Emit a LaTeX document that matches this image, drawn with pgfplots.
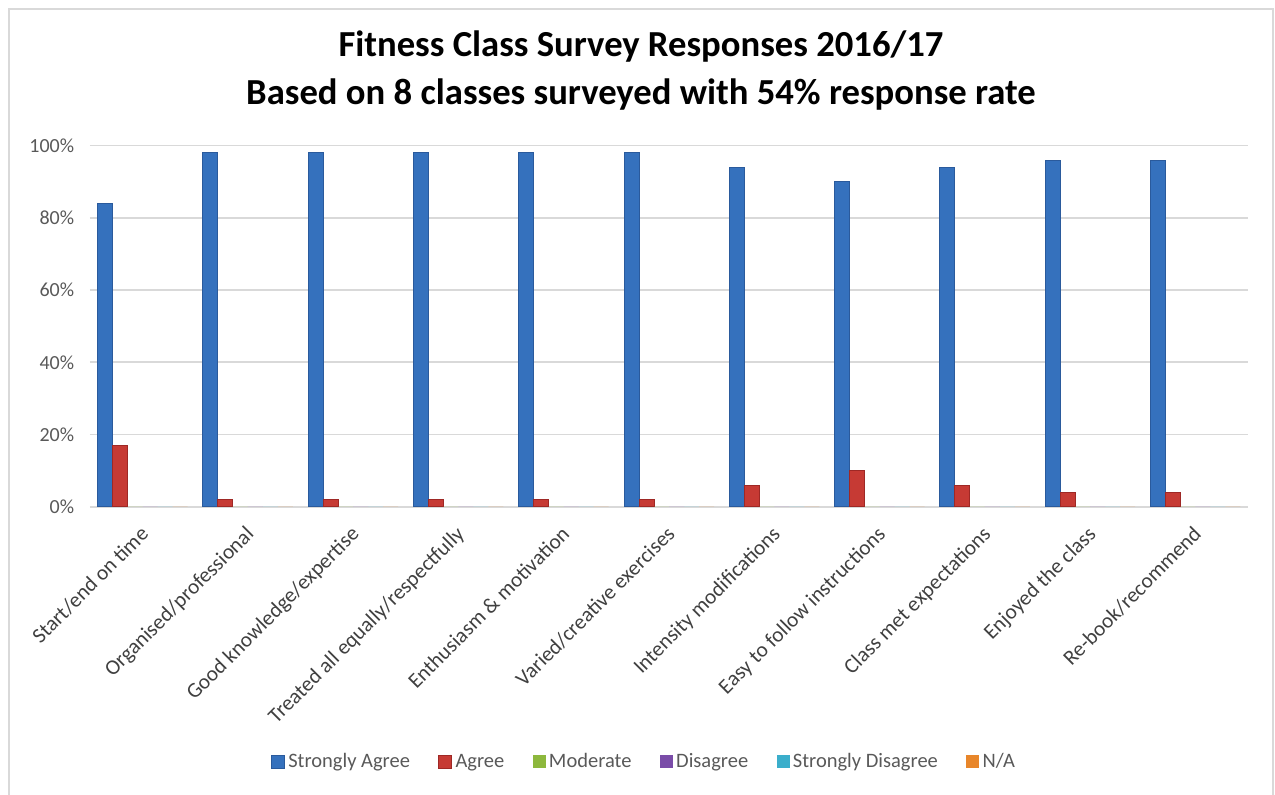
\documentclass[border=0pt]{standalone}
\usepackage{pgfplots}
\pgfplotsset{compat=1.18}
\usepackage{fontspec}
\setmainfont{Carlito}

\definecolor{saEdge}{HTML}{2A5A9C}
\definecolor{saFill}{HTML}{3571BD}
\definecolor{agEdge}{HTML}{9E2825}
\definecolor{agFill}{HTML}{C63A34}
\definecolor{moC}{HTML}{8DB83D}
\definecolor{diC}{HTML}{7A4CA8}
\definecolor{sdC}{HTML}{3BAECB}
\definecolor{naC}{HTML}{E8862A}
\definecolor{gridC}{HTML}{D9D9D9}
\definecolor{tickC}{HTML}{595959}
\definecolor{borderC}{HTML}{D9D9D9}

% one row per question, values in percent
\pgfplotstableread{
q  sa  ag  mo  di  sd  na
0  84  17  0   0   0   0
1  98  2   0   0   0   0
2  98  2   0   0   0   0
3  98  2   0   0   0   0
4  98  2   0   0   0   0
5  98  2   0   0   0   0
6  94  6   0   0   0   0
7  90  10  0   0   0   0
8  94  6   0   0   0   0
9  96  4   0   0   0   0
10 96  4   0   0   0   0
}\survey

\begin{document}
\begin{tikzpicture}
\path[use as bounding box] (0pt,0pt) rectangle (765pt,476.4pt);
\draw[borderC, line width=1pt] (5.4pt,-5pt) -- (5.4pt,471pt) -- (763.8pt,471pt) -- (763.8pt,-5pt);

\begin{axis}[
  at={(54pt,172.4pt)}, anchor=south west,
  width=694.8pt, height=216.6pt,
  scale only axis,
  ybar=0pt, bar width=9pt,
  xmin=-0.5, xmax=10.5,
  ymin=0, ymax=100,
  xtick=data,
  xticklabels={Start/end on time, Organised/professional, Good knowledge/expertise,
    Treated all equally/respectfully, Enthusiasm \& motivation, Varied/creative exercises,
    Intensity modifications, Easy to follow instructions, Class met expectations,
    Enjoyed the class, Re-book/recommend},
  ytick={0,20,40,60,80,100},
  yticklabel={\pgfmathprintnumber{\tick}\%},
  /pgf/number format/assume math mode=true,
  ymajorgrids,
  grid style={gridC, line width=1pt},
  axis line style={draw=none},
  major tick style={draw=none},
  ticklabel style={font=\fontsize{12pt}{14pt}\selectfont, text=tickC},
  yticklabel style={xshift=-6pt},
  xticklabel style={rotate=45, anchor=north east, text=black!75,
    font=\fontsize{12.8pt}{14pt}\selectfont, xshift=-2.7pt, yshift=0.3pt},
  legend columns=6,
  legend style={at={(0.479,-0.707)}, anchor=center, draw=none, fill=none,
    font=\fontsize{12.3pt}{14pt}\selectfont, text=tickC,
    /tikz/every even column/.append style={column sep=15pt}},
  legend image code/.code={\path[#1] (0pt,-3.9pt) rectangle (7.8pt,3.9pt);},
]
\addplot[draw=saEdge, line width=0.5pt, fill=saFill] table[x=q, y=sa] {\survey};
\addplot[draw=agEdge, line width=0.5pt, fill=agFill] table[x=q, y=ag] {\survey};
\addplot[draw=none, fill=moC] table[x=q, y=mo] {\survey};
\addplot[draw=none, fill=diC] table[x=q, y=di] {\survey};
\addplot[draw=none, fill=sdC] table[x=q, y=sd] {\survey};
\addplot[draw=none, fill=naC] table[x=q, y=na] {\survey};
\legend{Strongly Agree, Agree, Moderate, Disagree, Strongly Disagree, N/A}
\end{axis}

\node[align=center, font=\bfseries\fontsize{22pt}{28.8pt}\selectfont] at (384.6pt,433.8pt)
  {Fitness Class Survey Responses 2016/17\\Based on 8 classes surveyed with 54\% response rate};
\end{tikzpicture}
\end{document}
